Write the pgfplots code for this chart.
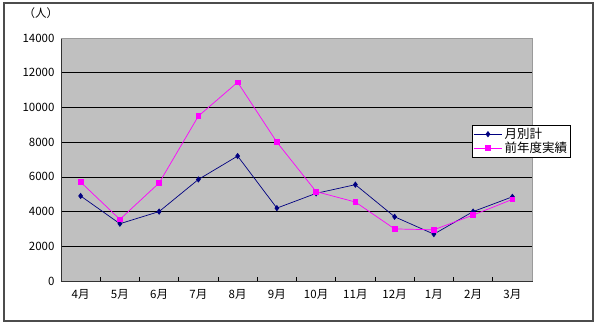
\documentclass[border=0pt]{standalone}
\usepackage{pgfplots}
\pgfplotsset{compat=1.18}
\usepackage{fontspec}
\setmainfont{Noto Sans CJK JP}
\definecolor{plotgray}{HTML}{C0C0C0}
\definecolor{navyc}{HTML}{000080}
\definecolor{magc}{HTML}{FF00FF}
\begin{document}
\begin{tikzpicture}[x=1pt,y=1pt]
\useasboundingbox (-61,-46) rectangle (539,281);
\fill[white] (-61,-46) rectangle (539,281);
\begin{axis}[
  at={(0,0)}, anchor=south west,
  scale only axis, width=471pt, height=243pt,
  xmin=-0.5, xmax=11.5, ymin=0, ymax=14000,
  axis background/.style={fill=plotgray},
  axis line style={black!80, line width=0.8pt},
  xtick={0.5,1.5,...,11.5},
  xtick pos=lower, ytick pos=left,
  xticklabels={4月,5月,6月,7月,8月,9月,10月,11月,12月,1月,2月,3月},
  xticklabel style={xshift=-19.625pt, yshift=-5pt},
  tick align=inside,
  major tick length=4.5pt,
  every tick/.style={black, line width=0.8pt},
  ytick style={draw=none},
  ytick={0,2000,...,14000},
  ymajorgrids, grid style={black, line width=0.6pt},
  scaled y ticks=false,
  /pgf/number format/assume math mode=true,
  yticklabel={\pgfmathprintnumber[fixed,1000 sep={}]{\tick}},
  tick label style={font=\fontsize{11.5}{13}\selectfont},
  yticklabel style={xshift=-3pt},
  legend style={at={(0.873,0.642)}, anchor=north west, draw=black, fill=white,
    font=\fontsize{12.5}{14}\selectfont, inner sep=1pt, row sep=-2pt,
    legend cell align=left},
  legend image code/.code={
    \draw[#1, mark=none] (0cm,0cm) -- (1cm,0cm);
    \draw[#1, only marks] plot coordinates {(0.5cm,0cm)};
  },
  clip=false,
]
\draw[plotgray!80!black, line width=0.9pt] (rel axis cs:0,1) -- (rel axis cs:1,1) -- (rel axis cs:1,0);
\addplot[color=navyc, line width=0.7pt, mark=diamond*, mark size=2.6pt, mark options={fill=navyc, draw=navyc}]
  coordinates {(0,4900) (1,3300) (2,4000) (3,5850) (4,7200) (5,4200) (6,5050) (7,5550) (8,3700) (9,2700) (10,4000) (11,4850)};
\addlegendentry{月別計}
\addplot[color=magc, line width=0.7pt, mark=square*, mark size=2.4pt, mark options={fill=magc, draw=magc}]
  coordinates {(0,5700) (1,3550) (2,5650) (3,9500) (4,11450) (5,8000) (6,5150) (7,4550) (8,3000) (9,2950) (10,3800) (11,4700)};
\addlegendentry{前年度実績}
\end{axis}
\node[font=\fontsize{11.5}{13}\selectfont] at (-20,268) {（人）};
\draw[black!70, line width=1.2pt] (-57,-40) rectangle (532,278);
\end{tikzpicture}
\end{document}
